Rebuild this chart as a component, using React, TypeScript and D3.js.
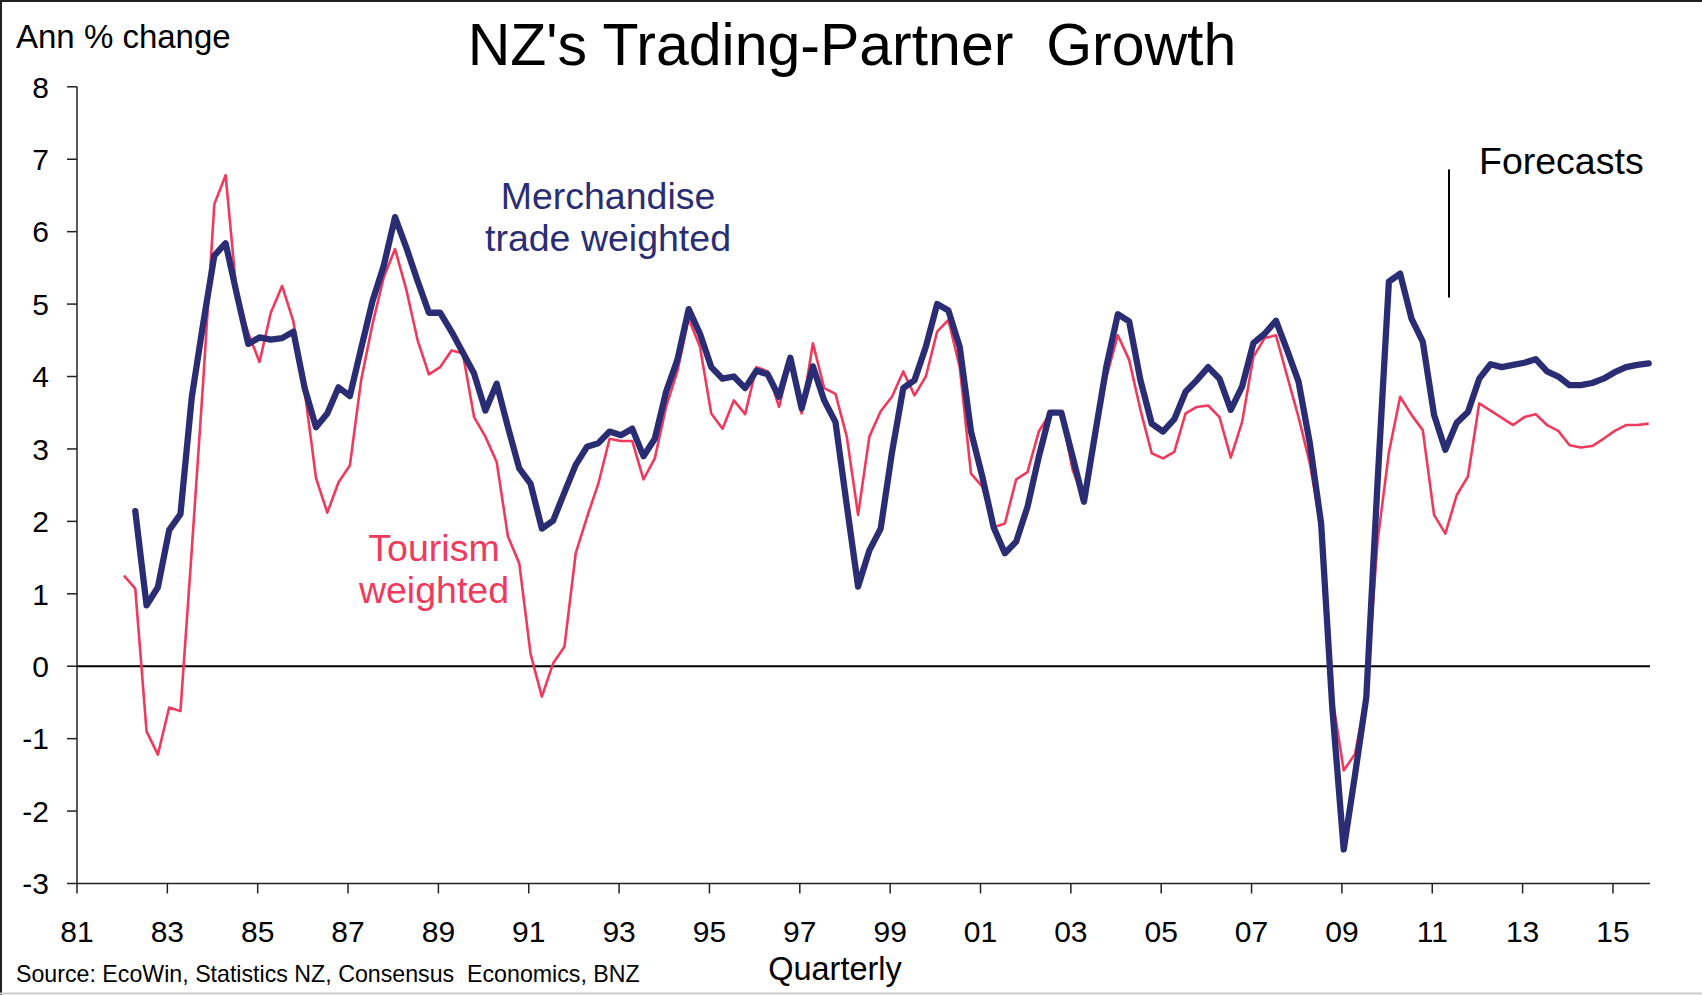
import * as d3 from "d3";

// quarterly, annual % change
const merchStart = 1982.25; // 1982 Q2
const merchandise = [
  2.14, 0.84, 1.09,
  1.88, 2.10, 3.71, 4.72,
  5.67, 5.84, 5.13, 4.45,
  4.54, 4.51, 4.53, 4.62,
  3.84, 3.30, 3.49, 3.85,
  3.73, 4.39, 5.04, 5.53,
  6.20, 5.78, 5.32, 4.88,
  4.88, 4.62, 4.33, 4.04,
  3.53, 3.90, 3.30, 2.73,
  2.52, 1.90, 2.01, 2.40,
  2.78, 3.03, 3.08, 3.24,
  3.19, 3.28, 2.90, 3.14,
  3.79, 4.23, 4.93, 4.59,
  4.13, 3.97, 4.00, 3.84,
  4.08, 4.03, 3.72, 4.26,
  3.56, 4.14, 3.67, 3.37,
  2.22, 1.10, 1.60, 1.90,
  2.95, 3.84, 3.95, 4.41,
  5.00, 4.91, 4.41, 3.24,
  2.62, 1.92, 1.56, 1.72,
  2.20, 2.89, 3.50, 3.50,
  2.89, 2.27, 3.22, 4.15,
  4.86, 4.76, 3.95, 3.35,
  3.24, 3.41, 3.79, 3.95,
  4.13, 3.97, 3.54, 3.86,
  4.46, 4.59, 4.77, 4.36,
  3.93, 3.08, 1.97, -0.60,
  -2.53, -1.50, -0.43, 2.55,
  5.31, 5.42, 4.80, 4.48,
  3.47, 2.99, 3.36, 3.51,
  3.97, 4.17, 4.13, 4.16,
  4.19, 4.24, 4.07, 4.00,
  3.88, 3.88, 3.91, 3.97,
  4.06, 4.13, 4.16, 4.18,
];

const tourStart = 1982.0; // 1982 Q1
const tourism = [
  1.25, 1.07, -0.90, -1.22,
  -0.57, -0.62, 1.60, 3.90,
  6.38, 6.78, 5.10, 4.60,
  4.20, 4.88, 5.25, 4.76,
  3.80, 2.60, 2.12, 2.54,
  2.77, 3.95, 4.72, 5.37,
  5.76, 5.20, 4.50, 4.03,
  4.13, 4.36, 4.32, 3.44,
  3.17, 2.82, 1.79, 1.42,
  0.17, -0.42, 0.04, 0.27,
  1.56, 2.06, 2.52, 3.14,
  3.11, 3.11, 2.58, 2.87,
  3.58, 4.07, 4.80, 4.41,
  3.49, 3.28, 3.67, 3.48,
  4.13, 4.07, 3.58, 4.23,
  3.49, 4.46, 3.84, 3.76,
  3.17, 2.09, 3.17, 3.52,
  3.72, 4.07, 3.74, 4.00,
  4.62, 4.78, 4.13, 2.66,
  2.48, 1.92, 1.97, 2.58,
  2.68, 3.24, 3.49, 3.50,
  2.71, 2.30, 3.20, 4.00,
  4.57, 4.23, 3.54, 2.94,
  2.87, 2.96, 3.49, 3.58,
  3.60, 3.44, 2.88, 3.37,
  4.27, 4.53, 4.57, 4.00,
  3.44, 2.80, 1.90, -0.43,
  -1.44, -1.21, -0.40, 1.73,
  2.95, 3.72, 3.47, 3.26,
  2.09, 1.83, 2.36, 2.62,
  3.63, 3.53, 3.43, 3.33,
  3.44, 3.48, 3.33, 3.25,
  3.05, 3.02, 3.04, 3.14,
  3.25, 3.33, 3.33, 3.35,
];

const yTicks = [8, 7, 6, 5, 4, 3, 2, 1, 0, -1, -2, -3];
const xTickYears = d3.range(1981, 2016, 2);
const xTickLabels = xTickYears.map((y) => String(y % 100).padStart(2, "0"));
const forecastYear = 2011.37;

const NAVY = "#2a2d74";
const RED = "#ef3a5d";
const FONT = "Arial, 'Liberation Sans', Helvetica, sans-serif";

type Pt = { t: number; v: number };

const toPoints = (start: number, values: number[]): Pt[] =>
  values.map((v, i) => ({ t: start + i / 4 + 0.04, v }));

export default function App() {
  const width = 1702;
  const height = 995;

  const x = d3.scaleLinear().domain([1981, 2015.82]).range([77, 1650]);
  const y = d3.scaleLinear().domain([-3, 8]).range([883.5, 86.8]);

  const line = d3
    .line<Pt>()
    .x((d) => x(d.t))
    .y((d) => y(d.v));

  const merchPath = line(toPoints(merchStart, merchandise)) ?? "";
  const tourPath = line(toPoints(tourStart, tourism)) ?? "";

  const [x0, x1] = x.range();

  return (
    <svg
      width={width}
      height={height}
      style={{ position: "absolute", left: 0, top: 0, background: "#fff" }}
      fontFamily={FONT}
    >
      <rect x={0} y={0} width={width} height={height} fill="#fff" />
      {/* frame */}
      <line x1={0} x2={width} y1={1} y2={1} stroke="#222" strokeWidth={2} />
      <line x1={1} x2={1} y1={0} y2={height} stroke="#222" strokeWidth={2} />
      <line x1={0} x2={width} y1={993.5} y2={993.5} stroke="#ccc" strokeWidth={2} />

      <text x={852} y={65} fontSize={59} textAnchor="middle" fill="#000" style={{ whiteSpace: "pre" }}>
        {"NZ's Trading-Partner  Growth"}
      </text>
      <text x={16} y={48} fontSize={33} fill="#000">
        Ann % change
      </text>

      {/* y axis */}
      <line x1={x0} x2={x0} y1={y(8)} y2={y(-3)} stroke="#222" strokeWidth={1.5} />
      {yTicks.map((t) => (
        <g key={t}>
          <line x1={x0 - 10} x2={x0} y1={y(t)} y2={y(t)} stroke="#222" strokeWidth={1.5} />
          <text x={49} y={y(t)} dy="0.36em" fontSize={30} textAnchor="end" fill="#000">
            {t}
          </text>
        </g>
      ))}

      {/* x axis */}
      <line x1={x0} x2={x1} y1={y(-3)} y2={y(-3)} stroke="#222" strokeWidth={1.5} />
      {xTickYears.map((yr, i) => (
        <g key={yr}>
          <line x1={x(yr)} x2={x(yr)} y1={y(-3)} y2={y(-3) + 10} stroke="#222" strokeWidth={1.5} />
          <text x={x(yr)} y={942} fontSize={30} textAnchor="middle" fill="#000">
            {xTickLabels[i]}
          </text>
        </g>
      ))}

      {/* zero line */}
      <line x1={x0} x2={x1} y1={y(0)} y2={y(0)} stroke="#000" strokeWidth={2} />

      {/* forecast marker */}
      <line
        x1={x(forecastYear)}
        x2={x(forecastYear)}
        y1={y(6.86)}
        y2={y(5.09)}
        stroke="#000"
        strokeWidth={2}
      />
      <text x={1479} y={174} fontSize={37.5} fill="#000">
        Forecasts
      </text>

      <path d={tourPath} fill="none" stroke={RED} strokeWidth={2.6} strokeLinejoin="round" />
      <path d={merchPath} fill="none" stroke={NAVY} strokeWidth={6.3} strokeLinejoin="round" strokeLinecap="round" />

      <text x={608} fontSize={37.5} textAnchor="middle" fill={NAVY}>
        <tspan x={608} y={209}>Merchandise</tspan>
        <tspan x={608} y={251}>trade weighted</tspan>
      </text>
      <text x={434} fontSize={37.5} textAnchor="middle" fill={RED}>
        <tspan x={434} y={561}>Tourism</tspan>
        <tspan x={434} y={603}>weighted</tspan>
      </text>

      <text x={16} y={982} fontSize={23.2} fill="#000" style={{ whiteSpace: "pre" }}>
        {"Source: EcoWin, Statistics NZ, Consensus  Economics, BNZ"}
      </text>
      <text x={835} y={980} fontSize={32.5} textAnchor="middle" fill="#000">
        Quarterly
      </text>
    </svg>
  );
}
